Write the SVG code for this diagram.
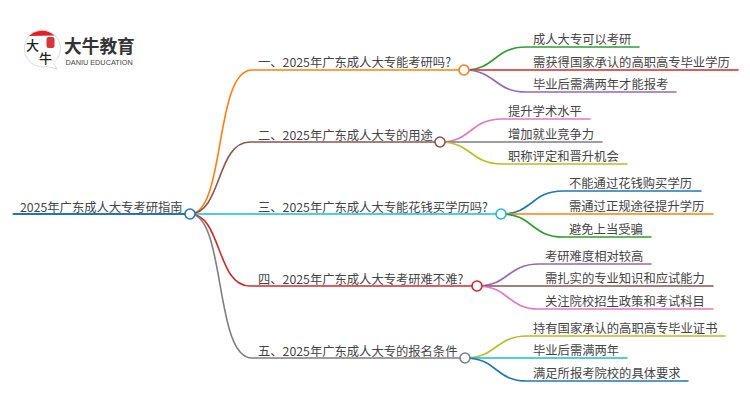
<svg xmlns="http://www.w3.org/2000/svg" width="750" height="410" viewBox="0 0 750 410">
<style>
text{font-family:"Noto Sans CJK SC","Liberation Sans",sans-serif;font-size:12.3px;fill:#444}
.l{fill:none;stroke-width:1.6;stroke-linecap:round}
.n{fill:#fff;stroke-width:1.6}
.c0{stroke:#1f77b4}.c1{stroke:#ff7f0e}.c2{stroke:#2ca02c}.c3{stroke:#d62728}.c4{stroke:#9467bd}.c5{stroke:#8c564b}.c6{stroke:#e377c2}.c7{stroke:#7f7f7f}.c8{stroke:#bcbd22}.c9{stroke:#17becf}
</style>
<g id="logo">
<path d="M42 30A18.500 18.500 0 1 0 47 66.500L57 69L53.500 63A18.500 18.500 0 0 0 42 30Z" fill="#fff" stroke="#ccc" stroke-width="0.7"/>
<path d="M29 36A18.500 18.500 0 0 1 54.500 35.500Z" fill="#e02027"/>
<rect x="46.500" y="37" width="8" height="11" rx="2" fill="#d9343a"/>
<text x="26" y="50" style="font-size:13px;fill:#222;font-weight:500">大</text>
<text x="39" y="63" style="font-size:13px;fill:#222;font-weight:500">牛</text>
<text x="64" y="53" style="font-size:17.700px;font-weight:700;fill:#333">大牛教育</text>
<text x="65.500" y="65" style="font-family:'Liberation Sans',sans-serif;font-size:7.300px;fill:#444">DANIU EDUCATION</text>
</g>
<g id="connectors">
<path class="l c0" style="stroke-width:2" d="M13.500 214H190"/>
<path class="l c1" d="M190 214C226 214 214 70 252 70H464"/>
<path class="l c5" d="M190 214C222 214 216 142 250 142H440"/>
<path class="l c9" d="M190 214H501"/>
<path class="l c3" d="M190 214C222 214 216 286 250 286H477"/>
<path class="l c7" d="M190 214C226 214 214 358 252 358H465"/>
<path class="l c2" d="M464 70C496 70 494 47 526 47H639"/>
<path class="l c3" d="M464 70H738"/>
<path class="l c4" d="M464 70C496 70 494 92 526 92H676"/>
<path class="l c6" d="M440 142C472 142 470 119 502 119H590"/>
<path class="l c7" d="M440 142H602"/>
<path class="l c8" d="M440 142C472 142 470 164 502 164H627"/>
<path class="l c0" d="M501 214C533 214 531 191 563 191H701"/>
<path class="l c1" d="M501 214H713"/>
<path class="l c2" d="M501 214C533 214 531 237 563 237H651"/>
<path class="l c4" d="M477 286C509 286 507 264 539 264H651"/>
<path class="l c5" d="M477 286H713"/>
<path class="l c6" d="M477 286C509 286 507 309 539 309H713"/>
<path class="l c8" d="M465 358C497 358 495 336 527 336H725"/>
<path class="l c9" d="M465 358H627"/>
<path class="l c0" d="M465 358C497 358 495 381 527 381H688"/>
</g>
<g id="root"><circle class="n c0" cx="190" cy="214" r="5"/><text x="20" y="212">2025年广东成人大专考研指南</text></g>
<g id="b1"><circle class="n c1" cx="464" cy="70" r="5"/><text x="258" y="67">一、2025年广东成人大专能考研吗?</text></g>
<g id="b2"><circle class="n c5" cx="440" cy="142" r="5"/><text x="258" y="140">二、2025年广东成人大专的用途</text></g>
<g id="b3"><circle class="n c9" cx="501" cy="214" r="5"/><text x="258" y="212">三、2025年广东成人大专能花钱买学历吗?</text></g>
<g id="b4"><circle class="n c3" cx="477" cy="286" r="5"/><text x="258" y="284">四、2025年广东成人大专考研难不难?</text></g>
<g id="b5"><circle class="n c7" cx="465" cy="358" r="5"/><text x="258" y="356">五、2025年广东成人大专的报名条件</text></g>
<g id="b1-1"><text x="533" y="44">成人大专可以考研</text></g>
<g id="b1-2"><text x="533" y="67">需获得国家承认的高职高专毕业学历</text></g>
<g id="b1-3"><text x="533" y="89">毕业后需满两年才能报考</text></g>
<g id="b2-1"><text x="508" y="116">提升学术水平</text></g>
<g id="b2-2"><text x="508" y="139">增加就业竞争力</text></g>
<g id="b2-3"><text x="508" y="161">职称评定和晋升机会</text></g>
<g id="b3-1"><text x="569" y="188">不能通过花钱购买学历</text></g>
<g id="b3-2"><text x="569" y="211">需通过正规途径提升学历</text></g>
<g id="b3-3"><text x="569" y="234">避免上当受骗</text></g>
<g id="b4-1"><text x="545" y="261">考研难度相对较高</text></g>
<g id="b4-2"><text x="545" y="283">需扎实的专业知识和应试能力</text></g>
<g id="b4-3"><text x="545" y="306">关注院校招生政策和考试科目</text></g>
<g id="b5-1"><text x="533" y="333">持有国家承认的高职高专毕业证书</text></g>
<g id="b5-2"><text x="533" y="355">毕业后需满两年</text></g>
<g id="b5-3"><text x="533" y="378">满足所报考院校的具体要求</text></g>
</svg>
